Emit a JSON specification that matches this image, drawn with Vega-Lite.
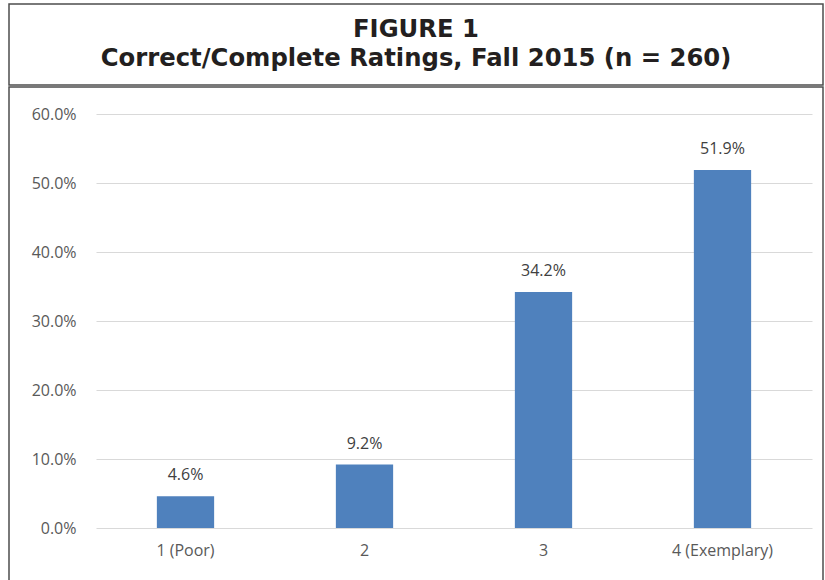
{
  "$schema": "https://vega.github.io/schema/vega-lite/v6.json",
  "padding": {"left": 8, "top": 3, "right": 0, "bottom": 0},
  "background": "white",
  "spacing": 0,
  "config": {
    "view": {"stroke": "#4d4d4d", "strokeWidth": 1.5},
    "font": "Open Sans"
  },
  "vconcat": [
    {
      "width": 814,
      "height": 81,
      "data": {"values": [
        {"line": 1, "text": "FIGURE 1"},
        {"line": 2, "text": "Correct/Complete Ratings, Fall 2015 (n = 260)"}
      ]},
      "mark": {"type": "text", "font": "DejaVu Sans", "fontWeight": "bold", "fontSize": 24.3, "color": "#231f20", "baseline": "alphabetic", "align": "center"},
      "encoding": {
        "y": {"field": "line", "type": "quantitative", "scale": {"domain": [1, 2], "range": [33, 62], "zero": false, "nice": false}, "axis": null},
        "text": {"field": "text"}
      }
    },
    {
      "width": 814,
      "height": 497,
      "data": {"values": [
        {"rating": "1 (Poor)", "pct": 0.046},
        {"rating": "2", "pct": 0.092},
        {"rating": "3", "pct": 0.342},
        {"rating": "4 (Exemplary)", "pct": 0.519}
      ]},
      "encoding": {
        "x": {
          "field": "rating", "type": "nominal", "sort": null,
          "scale": {"range": [87, 803], "paddingInner": 0.68, "paddingOuter": 0.34},
          "axis": {"title": null, "offset": -56, "domain": false, "ticks": false, "tickSize": 0, "labelPadding": 14, "labelFontSize": 16, "labelColor": "#595959", "labelAngle": 0, "labelFont": "Open Sans"}
        },
        "y": {
          "field": "pct", "type": "quantitative",
          "scale": {"domain": [0, 0.6], "range": [441, 27], "nice": false},
          "axis": {"title": null, "format": ".1%", "values": [0, 0.1, 0.2, 0.3, 0.4, 0.5, 0.6], "offset": -87, "domain": false, "ticks": false, "tickSize": 0, "labelPadding": 20, "labelFontSize": 16, "labelColor": "#595959", "labelFont": "Open Sans", "grid": true, "gridColor": "#d9d9d9", "gridWidth": 1.2}
        }
      },
      "layer": [
        {"mark": {"type": "bar", "color": "#4f81bd"}},
        {
          "mark": {"type": "text", "baseline": "alphabetic", "dy": -16, "fontSize": 16, "color": "#404040", "font": "Open Sans"},
          "encoding": {"text": {"field": "pct", "type": "quantitative", "format": ".1%"}}
        }
      ]
    }
  ]
}
